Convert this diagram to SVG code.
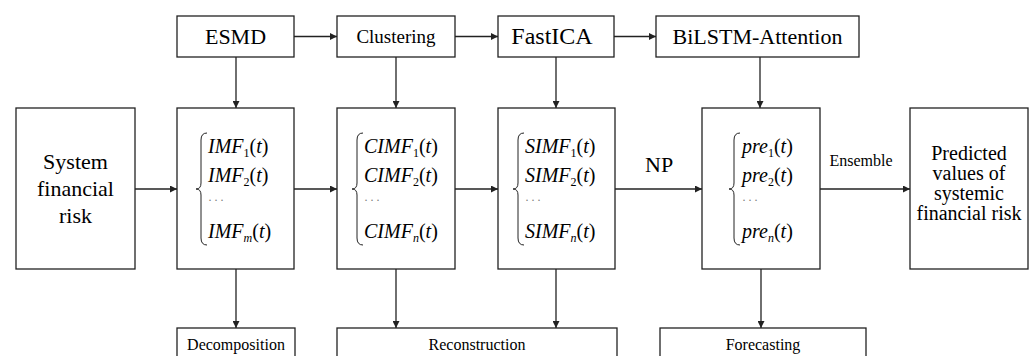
<svg xmlns="http://www.w3.org/2000/svg" width="1030" height="356" viewBox="0 0 1030 356" font-family="Liberation Serif">
<style>
text{font-family:"Liberation Serif","Times New Roman",serif;fill:#000}
.box{fill:#fff;stroke:#222;stroke-width:1.3}
.lbl{font-size:22px;text-anchor:middle}
.sm{font-size:16px;text-anchor:middle}
.m{font-size:20px;font-style:italic}
.sub{font-size:12px}
.up{font-style:normal}
.dots{font-size:12px;letter-spacing:2px;fill:#777}
.br{fill:none;stroke:#222;stroke-width:1}
.c{stroke:#222;stroke-width:1.3;fill:none;marker-end:url(#ah)}
</style>
<defs>
<marker id="ah" viewBox="0 0 10 10" refX="10" refY="5" markerWidth="7" markerHeight="7" markerUnits="userSpaceOnUse" orient="auto">
<path d="M0,0 L10,5 L0,10 z" fill="#222"/>
</marker>
</defs>
<rect width="1030" height="356" fill="#fff"/>

<g id="connectors">
<line class="c" x1="294" y1="36.5" x2="337" y2="36.5"/>
<line class="c" x1="455" y1="36.5" x2="498" y2="36.5"/>
<line class="c" x1="614" y1="36.5" x2="656" y2="36.5"/>
<line class="c" x1="236" y1="57" x2="236" y2="108"/>
<line class="c" x1="396" y1="57" x2="396" y2="108"/>
<line class="c" x1="556" y1="57" x2="556" y2="108"/>
<line class="c" x1="760" y1="57" x2="760" y2="108"/>
<line class="c" x1="135" y1="189" x2="177" y2="189"/>
<line class="c" x1="294" y1="189" x2="337" y2="189"/>
<line class="c" x1="455" y1="189" x2="498" y2="189"/>
<line class="c" x1="615" y1="189" x2="702" y2="189"/>
<line class="c" x1="820" y1="189" x2="910" y2="189"/>
<line class="c" x1="236" y1="269" x2="236" y2="328"/>
<line class="c" x1="396" y1="269" x2="396" y2="328"/>
<line class="c" x1="556" y1="269" x2="556" y2="328"/>
<line class="c" x1="761" y1="269" x2="761" y2="328"/>
<text x="645" y="172" style="font-size:22px">NP</text>
<text x="861" y="166" class="sm">Ensemble</text>
</g>

<g id="esmd">
<rect class="box" x="177" y="16" width="117" height="41"/>
<text class="lbl" x="235.5" y="44">ESMD</text>
</g>
<g id="clustering">
<rect class="box" x="337" y="16" width="118" height="41"/>
<text class="lbl" x="396" y="43" style="font-size:19px">Clustering</text>
</g>
<g id="fastica">
<rect class="box" x="498" y="16" width="116" height="41"/>
<text class="lbl" x="552" y="44" style="font-size:24px">FastICA</text>
</g>
<g id="bilstm">
<rect class="box" x="656" y="16" width="203" height="41"/>
<text class="lbl" x="757.5" y="44">BiLSTM-Attention</text>
</g>

<g id="system">
<rect class="box" x="16" y="108" width="119" height="161"/>
<text class="lbl" x="75.5" y="169">System</text>
<text class="lbl" x="75.5" y="196">financial</text>
<text class="lbl" x="75.5" y="223">risk</text>
</g>

<g id="imf">
<rect class="box" x="177" y="108" width="117" height="161"/>
<path class="br" d="M207,133 Q201,133 201,140 L201,183 Q201,189 196,189 Q201,189 201,195 L201,238 Q201,245 207,245"/>
<text class="m" x="208" y="153">IMF<tspan class="sub up" dy="4">1</tspan><tspan class="up" dy="-4">(</tspan>t<tspan class="up">)</tspan></text>
<text class="m" x="208" y="182">IMF<tspan class="sub up" dy="4">2</tspan><tspan class="up" dy="-4">(</tspan>t<tspan class="up">)</tspan></text>
<text class="dots" x="208" y="204">···</text>
<text class="m" x="208" y="238">IMF<tspan class="sub" dy="4">m</tspan><tspan class="up" dy="-4">(</tspan>t<tspan class="up">)</tspan></text>
</g>

<g id="cimf">
<rect class="box" x="337" y="108" width="118" height="161"/>
<path class="br" d="M363,133 Q357,133 357,140 L357,183 Q357,189 352,189 Q357,189 357,195 L357,238 Q357,245 363,245"/>
<text class="m" x="364" y="153">CIMF<tspan class="sub up" dy="4">1</tspan><tspan class="up" dy="-4">(</tspan>t<tspan class="up">)</tspan></text>
<text class="m" x="364" y="182">CIMF<tspan class="sub up" dy="4">2</tspan><tspan class="up" dy="-4">(</tspan>t<tspan class="up">)</tspan></text>
<text class="dots" x="364" y="204">···</text>
<text class="m" x="364" y="238">CIMF<tspan class="sub" dy="4">n</tspan><tspan class="up" dy="-4">(</tspan>t<tspan class="up">)</tspan></text>
</g>

<g id="simf">
<rect class="box" x="498" y="108" width="117" height="161"/>
<path class="br" d="M524,133 Q518,133 518,140 L518,183 Q518,189 513,189 Q518,189 518,195 L518,238 Q518,245 524,245"/>
<text class="m" x="525" y="153">SIMF<tspan class="sub up" dy="4">1</tspan><tspan class="up" dy="-4">(</tspan>t<tspan class="up">)</tspan></text>
<text class="m" x="525" y="182">SIMF<tspan class="sub up" dy="4">2</tspan><tspan class="up" dy="-4">(</tspan>t<tspan class="up">)</tspan></text>
<text class="dots" x="525" y="204">···</text>
<text class="m" x="525" y="238">SIMF<tspan class="sub" dy="4">n</tspan><tspan class="up" dy="-4">(</tspan>t<tspan class="up">)</tspan></text>
</g>

<g id="pre">
<rect class="box" x="702" y="108" width="118" height="161"/>
<path class="br" d="M740,133 Q734,133 734,140 L734,183 Q734,189 729,189 Q734,189 734,195 L734,238 Q734,245 740,245"/>
<text class="m" x="742" y="153">pre<tspan class="sub up" dy="4">1</tspan><tspan class="up" dy="-4">(</tspan>t<tspan class="up">)</tspan></text>
<text class="m" x="742" y="182">pre<tspan class="sub up" dy="4">2</tspan><tspan class="up" dy="-4">(</tspan>t<tspan class="up">)</tspan></text>
<text class="dots" x="742" y="204">···</text>
<text class="m" x="742" y="238">pre<tspan class="sub" dy="4">n</tspan><tspan class="up" dy="-4">(</tspan>t<tspan class="up">)</tspan></text>
</g>

<g id="predicted">
<rect class="box" x="910" y="108" width="118" height="161"/>
<text class="lbl" x="969" y="160" style="font-size:20px">Predicted</text>
<text class="lbl" x="969" y="180" style="font-size:20px">values of</text>
<text class="lbl" x="969" y="200" style="font-size:20px">systemic</text>
<text class="lbl" x="969" y="220" style="font-size:20px">financial risk</text>
</g>

<g id="decomposition">
<rect class="box" x="177" y="328" width="118" height="40"/>
<text class="sm" x="236" y="350">Decomposition</text>
</g>
<g id="reconstruction">
<rect class="box" x="337" y="328" width="280" height="40"/>
<text class="sm" x="477" y="350">Reconstruction</text>
</g>
<g id="forecasting">
<rect class="box" x="660" y="328" width="206" height="40"/>
<text class="sm" x="763" y="350">Forecasting</text>
</g>
</svg>
